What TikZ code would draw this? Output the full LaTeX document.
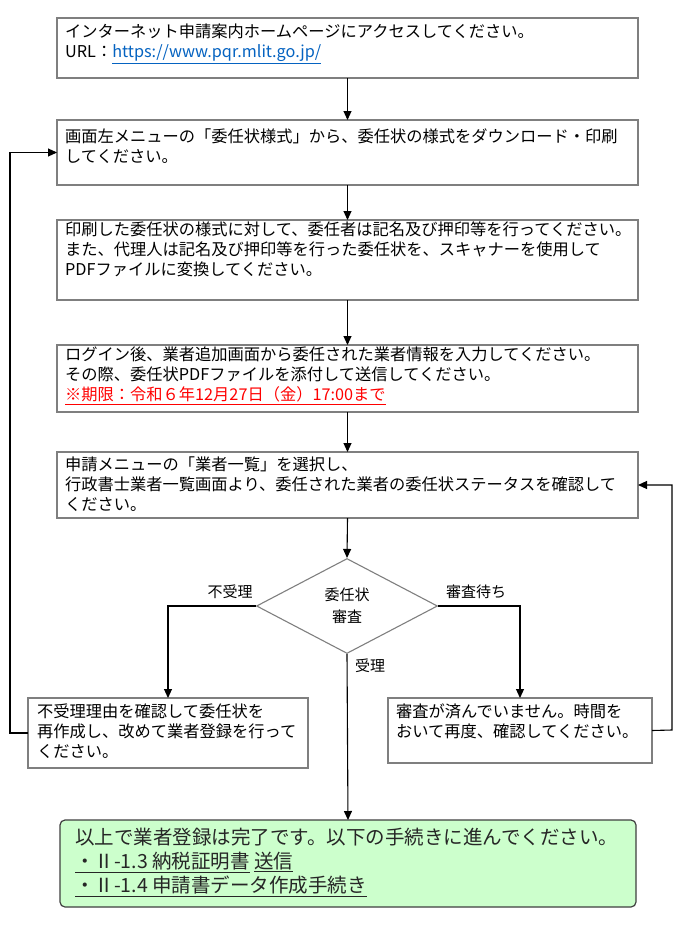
\documentclass[tikz,border=0pt]{standalone}
\usepackage{fontspec}
\setmainfont{Noto Sans CJK JP}
\usetikzlibrary{arrows.meta,shapes.geometric}
\definecolor{boxgray}{HTML}{7F7F7F}
\definecolor{linkblue}{HTML}{0563C1}
\definecolor{okgreen}{HTML}{CCFFCC}
\definecolor{darkline}{HTML}{3F3F3F}
\begin{document}
\begin{tikzpicture}[x=1pt,y=-1pt,
  box/.style={draw=boxgray, line width=1.1pt, inner sep=0, outer sep=0, anchor=north west, fill=white},
  txt/.style={anchor=north west, inner sep=0, align=left, font=\fontsize{16.25}{20}\selectfont},
  lbl/.style={inner sep=0, font=\fontsize{15}{18}\selectfont},
  conn/.style={line width=1.1pt, -{Triangle[length=9pt,width=8pt]}},
  plain/.style={line width=1.1pt}]
\useasboundingbox (0,0) rectangle (680,929);
% boxes
\node[box, minimum width=581pt, minimum height=60pt] (b1) at (57,18) {};
\node[box, minimum width=581pt, minimum height=65pt] (b2) at (57,120) {};
\node[box, minimum width=581pt, minimum height=80pt] (b3) at (57,220) {};
\node[box, minimum width=581pt, minimum height=67pt] (b4) at (57,345) {};
\node[box, minimum width=581pt, minimum height=66pt] (b5) at (57,452) {};
\node[box, minimum width=280pt, minimum height=70pt] (b6) at (28,698) {};
\node[box, minimum width=264pt, minimum height=65pt] (b7) at (388,698) {};
\node[draw=darkline, fill=okgreen, line width=1.2pt, rounded corners=5pt, inner sep=0, outer sep=0,
      anchor=north west, minimum width=576pt, minimum height=87pt] (b8) at (60,820) {};
\node[diamond, draw=boxgray, line width=1.1pt, inner sep=0, minimum width=181pt, minimum height=95pt,
      align=center, font=\fontsize{15}{22}\selectfont] (d) at (347,606) {委任状\\審査};
% texts
\node[txt] (t1) at (65,24) {インターネット申請案内ホームページにアクセスしてください。\\
URL：\textcolor{linkblue}{\underline{https://www.pqr.mlit.go.jp/}}};
\node[txt] (t2) at (65,129) {画面左メニューの「委任状様式」から、委任状の様式をダウンロード・印刷\\してください。};
\node[txt] (t3) at (65,222) {印刷した委任状の様式に対して、委任者は記名及び押印等を行ってください。\\
また、代理人は記名及び押印等を行った委任状を、スキャナーを使用して\\PDFファイルに変換してください。};
\node[txt] (t4) at (65,347) {ログイン後、業者追加画面から委任された業者情報を入力してください。\\
その際、委任状PDFファイルを添付して送信してください。\\
\textcolor{red}{\underline{※期限：令和６年12月27日（金）17:00まで}}};
\node[txt] (t5) at (65,457) {申請メニューの「業者一覧」を選択し、\\
行政書士業者一覧画面より、委任された業者の委任状ステータスを確認して\\ください。};
\node[txt] (t6) at (37,704) {不受理理由を確認して委任状を\\再作成し、改めて業者登録を行って\\ください。};
\node[txt] (t7) at (396,704) {審査が済んでいません。時間を\\おいて再度、確認してください。};
\node[txt, font=\fontsize{19.5}{24}\selectfont, text=black!85] (t8) at (75,828) {以上で業者登録は完了です。以下の手続きに進んでください。\\
\underline{・Ⅱ-1.3 納税証明書} \underline{送信}\\
\underline{・Ⅱ-1.4 申請書データ作成手続き}};
% labels
\node[lbl] (l1) at (230,592) {不受理};
\node[lbl] (l2) at (476,592) {審査待ち};
\node[lbl] (l3) at (370,666) {受理};
% connectors
\draw[conn] (b1.south) -- (b2.north);
\draw[conn] (b2.south) -- (b3.north);
\draw[conn] (b3.south) -- (b4.north);
\draw[conn] (b4.south) -- (b5.north);
\draw[conn] (b5.south) -- (d.north);
\draw[conn] (d.west) -| (b6.north);
\draw[conn] (d.east) -| (b7.north);
\draw[conn] (d.south) -- (b8.north);
\coordinate (cl) at (10,733);
\coordinate (cr) at (672,730);
\draw[conn] (b6.west) -- (cl) |- (b2.west);
\draw[conn] (b7.east) -- (cr) |- (b5.east);
\end{tikzpicture}
\end{document}
